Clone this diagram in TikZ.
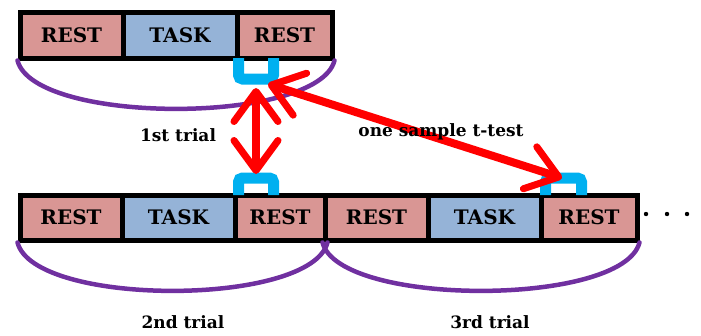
\documentclass[tikz,border=0pt]{standalone}
\usepackage{fontspec}
\setmainfont{DejaVu Serif}
\usetikzlibrary{arrows.meta}
\definecolor{restc}{RGB}{217,150,148}
\definecolor{taskc}{RGB}{149,179,215}
\definecolor{arcc}{RGB}{112,48,160}
\definecolor{brk}{RGB}{0,176,240}
\tikzset{
  cell/.style={draw=black, line width=5pt, inner sep=0pt, font=\bfseries\fontsize{20}{20}\selectfont},
  rest/.style={cell, fill=restc},
  task/.style={cell, fill=taskc},
  trialarc/.style={draw=arcc, line width=4.5pt, line cap=round},
  bracket/.style={draw=brk, line width=11pt, rounded corners=4pt},
  redarrow/.style={draw=red, line width=8pt, {Straight Barb[round,length=30pt,width=44pt,line width=7pt]}-{Straight Barb[round,length=30pt,width=44pt,line width=7pt]}},
  lbl/.style={font=\bfseries\fontsize{17}{17}\selectfont, inner sep=0pt},
}
\begin{document}
\begin{tikzpicture}[x=1pt,y=-1pt]
\useasboundingbox (0,0) rectangle (701,335);
% top bar
\node[rest, minimum width=103pt, minimum height=46pt] (t1) at (71.5,35) {REST};
\node[task, minimum width=114pt, minimum height=46pt] (t2) at (180,35) {TASK};
\node[rest, minimum width=95pt, minimum height=46pt] (t3) at (284.5,35) {REST};
% bottom bar
\node[rest, minimum width=102pt, minimum height=45pt] (b1) at (71,217.5) {REST};
\node[task, minimum width=113pt, minimum height=45pt] (b2) at (178.5,217.5) {TASK};
\node[rest, minimum width=90pt, minimum height=45pt] (b3) at (280,217.5) {REST};
\node[rest, minimum width=103pt, minimum height=45pt] (b4) at (376.5,217.5) {REST};
\node[task, minimum width=113pt, minimum height=45pt] (b5) at (484.5,217.5) {TASK};
\node[rest, minimum width=96pt, minimum height=45pt] (b6) at (589,217.5) {REST};
% dots
\foreach \x in {646,667,687} \fill (\x,214) circle (2.2pt);
% arcs
\draw[trialarc] (t1.south west) .. controls (34,125) and (318,125) .. (t3.south east);
\draw[trialarc] (b1.south west) .. controls (34,307) and (311,307) .. (b3.south east);
\draw[trialarc] (b4.south west) .. controls (339,307) and (623,307) .. (b6.south east);
% brackets
\draw[bracket] (238.5,58) -- (238.5,79) -- (273.5,79) -- (273.5,58);
\draw[bracket] (238.5,195) -- (238.5,178) -- (273.5,178) -- (273.5,195);
\draw[bracket] (545.5,195) -- (545.5,178) -- (581.5,178) -- (581.5,195);
% arrows
\coordinate (pa) at (256,88);
\coordinate (pb) at (256,174);
\coordinate (pc) at (268,84);
\coordinate (pd) at (562,178);
\draw[redarrow] (pa) -- (pb);
\draw[redarrow] (pc) -- (pd);
% labels
\node[lbl] (l1) at (178,135) {1st trial};
\node[lbl] (l2) at (441,132) {one sample t-test};
\node[lbl] (l3) at (183,322) {2nd trial};
\node[lbl] (l4) at (490,322) {3rd trial};
\end{tikzpicture}
\end{document}
